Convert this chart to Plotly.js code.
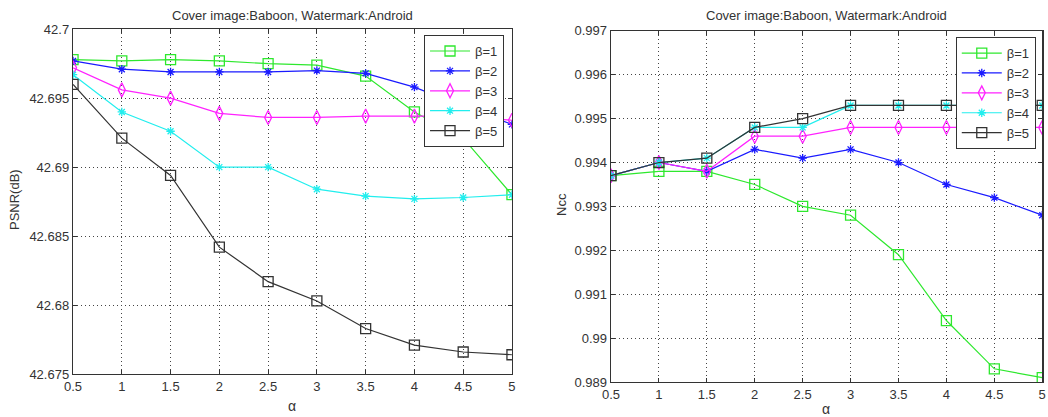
<!DOCTYPE html>
<html>
<head>
<meta charset="utf-8">
<script src="https://cdn.plot.ly/plotly-3.0.1.min.js"></script>
<style>html,body{margin:0;padding:0;background:#fff;}#chart{width:1048px;height:417px;}</style>
</head>
<body>
<div id="chart"></div>
<script>
const alpha = [0.5, 1, 1.5, 2, 2.5, 3, 3.5, 4, 4.5, 5];
const seriesNames = ["β=1", "β=2", "β=3", "β=4", "β=5"];

const psnrB1 = [42.6978, 42.6977, 42.6978, 42.6977, 42.6975, 42.6974, 42.6966, 42.6940, 42.6921, 42.6880];
const psnrB2 = [42.6977, 42.6971, 42.6969, 42.6969, 42.6969, 42.6970, 42.6968, 42.6958, 42.6944, 42.6931];
const psnrB3 = [42.6972, 42.6956, 42.6950, 42.6939, 42.6936, 42.6936, 42.6937, 42.6937, 42.6937, 42.6934];
const psnrB4 = [42.6967, 42.6940, 42.6926, 42.6900, 42.6900, 42.6884, 42.6879, 42.6877, 42.6878, 42.6880];
const psnrB5 = [42.6960, 42.6921, 42.6894, 42.6842, 42.6817, 42.6803, 42.6783, 42.6771, 42.6766, 42.6764];

const nccB1 = [0.9937, 0.9938, 0.9938, 0.9935, 0.9930, 0.9928, 0.9919, 0.9904, 0.9893, 0.9891];
const nccB2 = [0.9937, 0.9940, 0.9938, 0.9943, 0.9941, 0.9943, 0.9940, 0.9935, 0.9932, 0.9928];
const nccB3 = [0.9937, 0.9940, 0.9938, 0.9946, 0.9946, 0.9948, 0.9948, 0.9948, 0.9948, 0.9948];
const nccB4 = [0.9937, 0.9940, 0.9941, 0.9948, 0.9948, 0.9953, 0.9953, 0.9953, 0.9953, 0.9953];
const nccB5 = [0.9937, 0.9940, 0.9941, 0.9948, 0.9950, 0.9953, 0.9953, 0.9953, 0.9953, 0.9953];

const titleText = "Cover image:Baboon, Watermark:Android";
const psnrTicks = [42.675, 42.68, 42.685, 42.69, 42.695, 42.7];
const nccTicks = [0.989, 0.99, 0.991, 0.992, 0.993, 0.994, 0.995, 0.996, 0.997];
const alphaTicks = [0.5, 1, 1.5, 2, 2.5, 3, 3.5, 4, 4.5, 5];

const colors = ["#2ee82e", "#1a1aff", "#ff22ff", "#22eeee", "#333333"];
const symbols = ["square-open", "asterisk-open", "diamond-tall-open", "asterisk-open", "square-open"];
const sizes = [10, 7, 10, 7, 10];

const psnrData = [psnrB1, psnrB2, psnrB3, psnrB4, psnrB5];
const nccData = [nccB1, nccB2, nccB3, nccB4, nccB5];

const traces = [];
psnrData.forEach((ys, i) => {
  traces.push({
    x: alpha, y: ys, name: seriesNames[i], type: "scatter", mode: "lines+markers",
    xaxis: "x", yaxis: "y", legend: "legend",
    line: {color: colors[i], width: 1.2},
    marker: {symbol: symbols[i], size: sizes[i], color: colors[i], line: {color: colors[i], width: 1.3}}
  });
});
nccData.forEach((ys, i) => {
  traces.push({
    x: alpha, y: ys, name: seriesNames[i], type: "scatter", mode: "lines+markers",
    xaxis: "x2", yaxis: "y2", legend: "legend2",
    line: {color: colors[i], width: 1.2},
    marker: {symbol: symbols[i], size: sizes[i], color: colors[i], line: {color: colors[i], width: 1.3}}
  });
});

const axisCommon = {
  showline: true, linecolor: "#333", linewidth: 1.3, mirror: "ticks",
  ticks: "inside", ticklen: 4, tickcolor: "#333",
  showgrid: true, gridcolor: "#444", griddash: "1px,3px", gridwidth: 1,
  zeroline: false,
  tickfont: {family: "Liberation Sans, Arial, sans-serif", size: 13, color: "#333"}
};

const layout = {
  width: 1048, height: 417,
  margin: {l: 0, r: 0, t: 0, b: 0},
  paper_bgcolor: "#fff", plot_bgcolor: "#fff",
  showlegend: true,
  font: {family: "Liberation Sans, Arial, sans-serif", color: "#333"},
  xaxis: Object.assign({}, axisCommon, {domain: [0.0697, 0.4885], range: [0.5, 5], tickvals: alphaTicks, anchor: "y"}),
  yaxis: Object.assign({}, axisCommon, {domain: [0.103, 0.930], range: [42.675, 42.7], tickvals: psnrTicks, anchor: "x"}),
  xaxis2: Object.assign({}, axisCommon, {domain: [0.583, 0.9945], range: [0.5, 5], tickvals: alphaTicks, anchor: "y2"}),
  yaxis2: Object.assign({}, axisCommon, {domain: [0.084, 0.926], range: [0.989, 0.997], tickvals: nccTicks, anchor: "x2"}),
  legend: {
    x: 0.4046, y: 0.916, xanchor: "left", yanchor: "top",
    bgcolor: "#fff", bordercolor: "#333", borderwidth: 1,
    font: {size: 13, color: "#333"}, itemwidth: 40
  },
  legend2: {
    x: 0.912, y: 0.911, xanchor: "left", yanchor: "top",
    bgcolor: "#fff", bordercolor: "#333", borderwidth: 1,
    font: {size: 13, color: "#333"}, itemwidth: 40
  },
  annotations: [
    {text: titleText, xref: "paper", yref: "paper", x: 292/1048, y: 1 - 15/417, showarrow: false, xanchor: "center", yanchor: "middle", font: {size: 13, color: "#333"}},
    {text: titleText, xref: "paper", yref: "paper", x: 826/1048, y: 1 - 16/417, showarrow: false, xanchor: "center", yanchor: "middle", font: {size: 13, color: "#333"}},
    {text: "PSNR(dB)", xref: "paper", yref: "paper", x: 14/1048, y: 1 - 200/417, showarrow: false, textangle: -90, xanchor: "center", yanchor: "middle", font: {size: 13, color: "#333"}},
    {text: "Ncc", xref: "paper", yref: "paper", x: 561/1048, y: 1 - 205/417, showarrow: false, textangle: -90, xanchor: "center", yanchor: "middle", font: {size: 13, color: "#333"}},
    {text: "α", xref: "paper", yref: "paper", x: 292/1048, y: 1 - 406/417, showarrow: false, xanchor: "center", yanchor: "middle", font: {size: 14, color: "#333"}},
    {text: "α", xref: "paper", yref: "paper", x: 826/1048, y: 1 - 409/417, showarrow: false, xanchor: "center", yanchor: "middle", font: {size: 14, color: "#333"}}
  ]
};

Plotly.newPlot("chart", traces, layout, {displayModeBar: false, staticPlot: true});
</script>
</body>
</html>
